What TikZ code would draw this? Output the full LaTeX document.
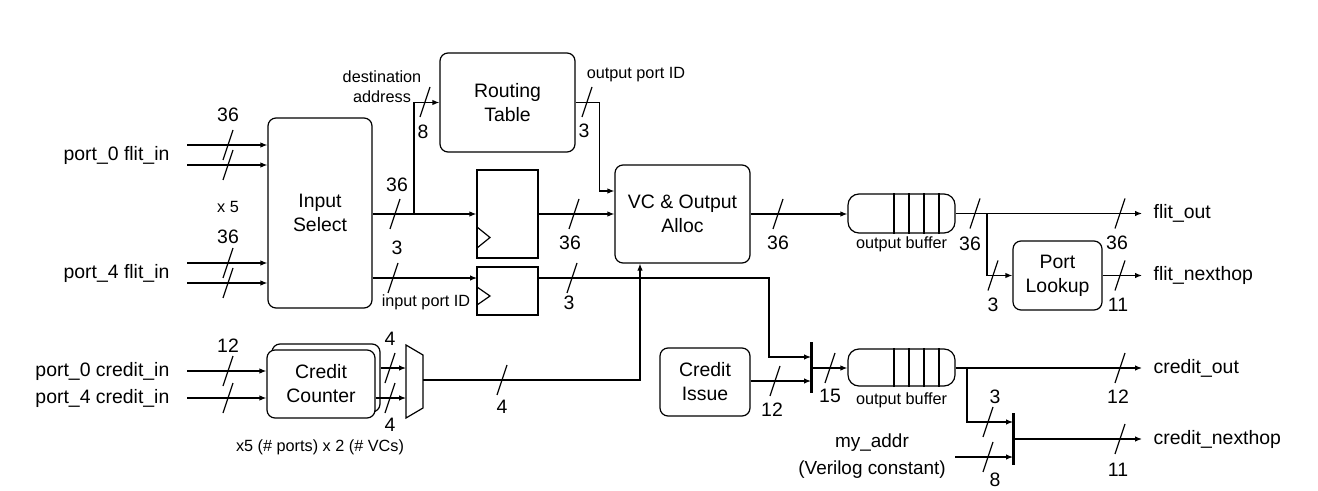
\documentclass[tikz,border=0pt]{standalone}
\usepackage{fontspec}
\setmainfont{Liberation Sans}
\usetikzlibrary{positioning,arrows.meta}

\tikzset{
  unit/.style={draw, rounded corners=8bp, align=center, inner sep=0pt},
  flop/.style={draw, inner sep=0pt},
  fifo/.style={draw, rounded corners=11bp, inner sep=0pt, minimum width=107bp},
  note/.style={font=\fontsize{16.3}{20}\selectfont, align=center, inner sep=0pt},
  wnum/.style={inner sep=0pt},
  sig/.style={anchor=west, inner sep=0pt},
  wslash/.pic={\draw (-5,15) -- (5,-15);}
}

\begin{document}
\begin{tikzpicture}[x=1bp, y=-1bp, line width=1.2bp,
  font=\fontsize{19.5}{24}\selectfont, >={Latex[length=7bp,width=5.5bp]}]
  \path[use as bounding box, fill=white] (0,0) rectangle (1318,491);

  % blocks
  \node[unit, minimum width=104bp, minimum height=190bp] (insel) at (320,213) {Input\\Select};
  \node[unit, minimum width=135bp, minimum height=99bp] (rtab) at (507.5,102.5) {Routing\\Table};
  \node[unit, minimum width=135bp, minimum height=98bp] (vca) at (682.5,214) {VC \& Output\\Alloc};
  \node[flop, minimum width=61bp, minimum height=88bp] (reg1) at (507.5,214) {};
  \node[flop, minimum width=61bp, minimum height=48bp] (reg2) at (507.5,291) {};
  \node[unit, minimum width=108bp, minimum height=68bp, fill=white] (ccntb) at (326,378) {};
  \node[unit, minimum width=108bp, minimum height=68bp, fill=white] (ccnt) at (321,384) {Credit\\Counter};
  \node[unit, minimum width=90bp, minimum height=68bp] (ciss) at (705,382) {Credit\\Issue};
  \node[unit, minimum width=89bp, minimum height=69bp] (plook) at (1057.5,275.5) {Port\\Lookup};
  \node[fifo, minimum height=39bp] (obf) at (901.5,213.5) {};
  \node[fifo, minimum height=37bp] (obc) at (901.5,367.5) {};
  \foreach \d in {-7.5,7.5,22.5,37.5} {
    \draw ([xshift=\d bp]obf.north) -- ([xshift=\d bp]obf.south);
    \draw ([xshift=\d bp]obc.north) -- ([xshift=\d bp]obc.south);
  }
  % clock marks
  \draw (477,227) -- (490,237.5) -- (477,248);
  \draw (477,287) -- (490,296) -- (477,305);
  % mux and joins
  \draw (406,345) -- (423,355) -- (423,408) -- (406,418) -- cycle;
  \coordinate (muxa) at (406,368);
  \coordinate (muxb) at (406,398);
  \coordinate (muxo) at (423,380);
  \draw[line width=3bp] (811,342) -- (811,393);
  \draw[line width=3bp] (1013,413) -- (1013,465);
  \coordinate (j1a) at (811,357);
  \coordinate (j1c) at (811,381);
  \coordinate (j1o) at (811,368);
  \coordinate (j2a) at (1013,422);
  \coordinate (j2b) at (1013,457);
  \coordinate (j2o) at (1013,439);

  % free ends
  \coordinate (f0a) at (187,145);
  \coordinate (f0b) at (187,165);
  \coordinate (f4a) at (187,263);
  \coordinate (f4b) at (187,283);
  \coordinate (c0) at (187,371);
  \coordinate (c4) at (187,398);
  \coordinate (pid) at (477,278);
  \coordinate (dbr) at (414,214);
  \coordinate (fbr) at (987,213.5);
  \coordinate (cbr) at (967,368);
  \coordinate (myad) at (955,457);
  \coordinate (fout) at (1142,213.5);
  \coordinate (fnh) at (1142,275.5);
  \coordinate (cout) at (1142,368);
  \coordinate (cnh) at (1142,439);

  % connectors
  \draw[->] (f0a) -- (f0a -| insel.west);
  \draw[->] (f0b) -- (f0b -| insel.west);
  \draw[->] (f4a) -- (f4a -| insel.west);
  \draw[->] (f4b) -- (f4b -| insel.west);
  \draw[->] (insel.east |- reg1.west) -- (reg1.west);
  \draw[->] (dbr) |- (rtab.west);
  \draw[->] (insel.east |- pid) -- (pid);
  \draw[->] (rtab.east) -- ++(24,0) |- ([yshift=23bp]vca.west);
  \draw[->] (reg1.east) -- (vca.west |- reg1.east);
  \draw[->] (reg2.east |- pid) -| ([xshift=-42bp]j1a) -- (j1a);
  \draw[->] (c0) -- (c0 -| ccnt.west);
  \draw[->] (c4) -- (c4 -| ccnt.west);
  \draw[->] (ccntb.east |- muxa) -- (muxa);
  \draw[->] (ccnt.east |- muxb) -- (muxb);
  \draw[->] (muxo) -| ([xshift=-42.5bp]vca.south);
  \draw[->] (ciss.east |- j1c) -- (j1c);
  \draw[->] (j1o) -- (obc.west |- j1o);
  \draw[->] (obc.east |- cout) -- (cout);
  \draw[->] (cbr) |- (j2a);
  \draw[->] (myad) -- (j2b);
  \draw[->] (j2o) -- (cnh);
  \draw[->] (vca.east) -- (obf.west |- vca.east);
  \draw[->] (obf.east) -- (fout);
  \draw[->] (fbr) |- (plook.west);
  \draw[->] (plook.east) -- (fnh);

  % bus widths
  \foreach \p in {(228,145),(228,165),(228,263),(228,283),(228,371),(228,398),
                  (395,214),(393,278),(425,102),(587,102),(574,214),(572,278),
                  (390,368),(390,398),(502,380),(778,214),(975,213.5),(993,275.5),
                  (1120,213.5),(1120,275.5),(775,381),(830,368),(1120,368),
                  (988,422),(988,457),(1120,439)}
    \pic at \p {wslash};
  \node[wnum] (wf0) at (228,115) {36};
  \node[wnum] (wf4) at (228,237) {36};
  \node[note] (nx5) at (228,207) {x 5};
  \node[wnum] (wis) at (397,185) {36};
  \node[wnum] (wip) at (397,248) {3};
  \node[wnum] (wda) at (423,132) {8};
  \node[wnum] (wop) at (584,131) {3};
  \node[wnum] (wr1) at (570,243) {36};
  \node[wnum] (wr2) at (569,303) {3};
  \node[wnum] (wva) at (778,243) {36};
  \node[wnum] (wob) at (970,244) {36};
  \node[wnum] (wpl) at (993,305) {3};
  \node[wnum] (wfo) at (1117,243) {36};
  \node[wnum] (wfn) at (1118,305) {11};
  \node[wnum] (wci) at (228,346) {12};
  \node[wnum] (wc0) at (390,339) {4};
  \node[wnum] (wc4) at (390,425) {4};
  \node[wnum] (wmx) at (502,407) {4};
  \node[wnum] (wcs) at (772,410) {12};
  \node[wnum] (wj1) at (830,396) {15};
  \node[wnum] (wco) at (1118,397) {12};
  \node[wnum] (wj2) at (995,397) {3};
  \node[wnum] (wma) at (995,480) {8};
  \node[wnum] (wcn) at (1118,470) {11};

  % texts
  \node[note] (ndest) at (382,87) {destination\\address};
  \node[note] (noport) at (636,75) {output port ID};
  \node[note] (niport) at (426,302) {input port ID};
  \node[note] (nobf) at (901.5,244) {output buffer};
  \node[note] (nobc) at (901.5,400) {output buffer};
  \node[note] (nmult) at (320,447) {x5 (\# ports) x 2 (\# VCs)};
  \node[align=center, inner sep=0pt, font=\fontsize{19}{27}\selectfont] (nmy) at (872,456) {my\_addr\\(Verilog constant)};
  \node[anchor=east, inner sep=0pt] (lf0) at (170,155) {port\_0 flit\_in};
  \node[anchor=east, inner sep=0pt] (lf4) at (170,273) {port\_4 flit\_in};
  \node[anchor=east, inner sep=0pt] (lc0) at (170,371) {port\_0 credit\_in};
  \node[anchor=east, inner sep=0pt] (lc4) at (170,398) {port\_4 credit\_in};
  \node[sig] (lfo) at (1153,213.5) {flit\_out};
  \node[sig] (lfn) at (1153,275.5) {flit\_nexthop};
  \node[sig] (lco) at (1153,368) {credit\_out};
  \node[sig] (lcn) at (1153,439) {credit\_nexthop};
\end{tikzpicture}
\end{document}
